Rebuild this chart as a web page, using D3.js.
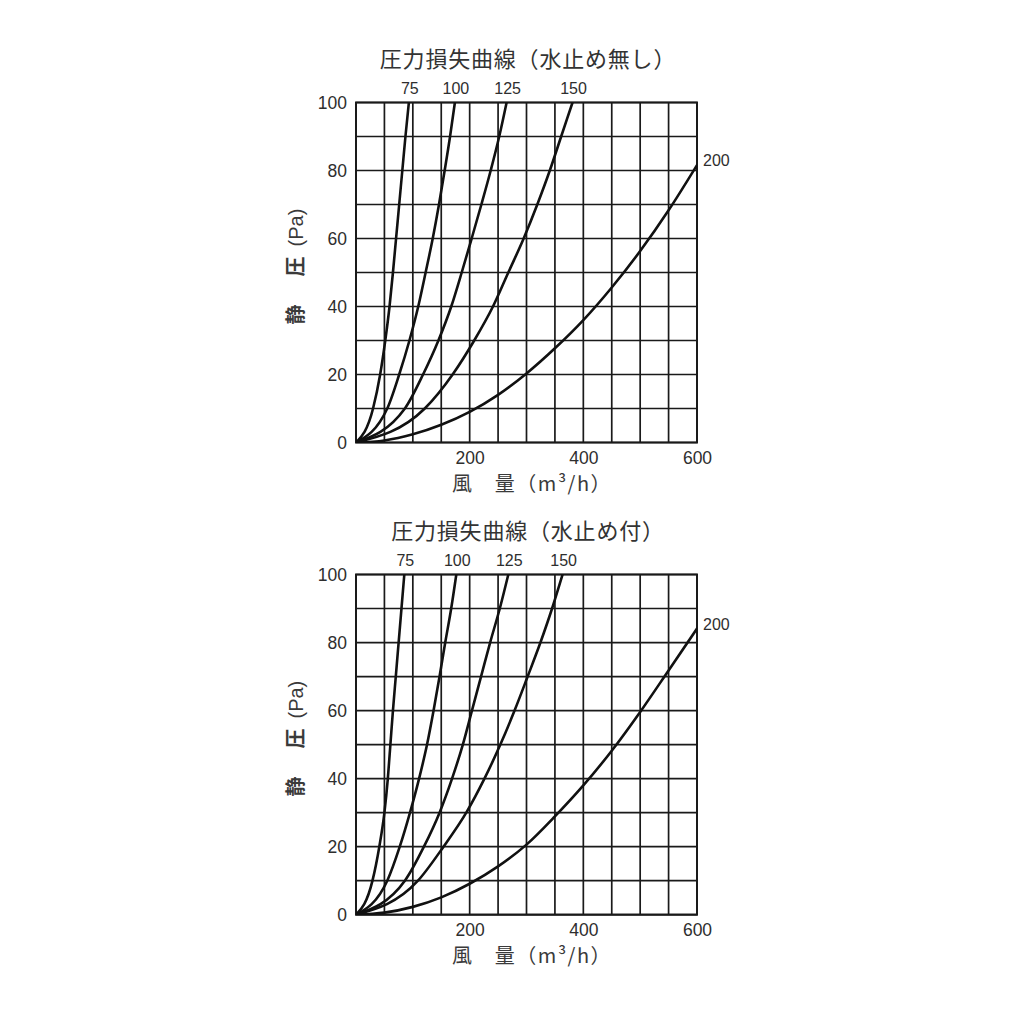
<!DOCTYPE html>
<html><head><meta charset="utf-8">
<script src="https://cdn.jsdelivr.net/npm/d3@7"></script>
<style>body{margin:0;background:#fff}</style>
</head><body>
<svg id="c" width="1024" height="1024"></svg>
<script>
// ---- data ----
const pLevels = [0,10,20,30,40,50,60,70,80,90,100];          // static pressure (Pa)
const qSteps  = [0,50,100,150,200,250,300,350,400,450,500,550,600]; // air volume (m3/h)
const yTicks = [0,20,40,60,80,100];
const xTicks = [200,400,600];
const seriesNames = ["75","100","125","150","200"];

// Chart 1: 水止め無し  (Q read at each pressure level for 75..150; P read at each Q step for 200)
const q75a  = [0,30,42.5,51.5,59,65,70.5,76,81.5,87,93];
const q100a = [0,55,76,94,109.5,122.5,135,146,156,165.5,174];
const q125a = [0,86,118,145,167.6,186,203.5,220.6,237,252,265];
const q150a = [0,121,170,208,241,268,295,319,341,361,381];
const p200a = [0,0.6,2.4,5.2,9,14,20.3,27.7,36,45.6,56.3,68.3,81.6];

// Chart 2: 水止め付
const q75b  = [0,29,41,50,56,60.5,65,70,75,80,85];
const q100b = [0,55,77,95,111,125,136.5,147,157,167.5,176.5];
const q125b = [0,86,119.5,147,169,188,204,220,236,253,268];
const q150b = [0,109,154,194,226,254,279,302,324.5,345,363.5];
const p200b = [0,0.6,2.3,5.1,9.1,14.2,20.6,28.9,38,48.2,59.6,71.8,84.1];

const titles = ["圧力損失曲線（水止め無し）","圧力損失曲線（水止め付）"];
const yLabelMain = "静　圧";
const yLabelUnit = "(Pa)";
const xLabel = "風　量（m³/h）";

// ---- drawing ----
const svg = d3.select("#c");
const ink = "#1a1a1a", txt = "#2e2e2e";
const numFont = "'Liberation Sans',Arial,sans-serif";
const cjkFont = "'Noto Sans CJK JP','Noto Sans CJK SC',sans-serif";

const x = d3.scaleLinear().domain([0,600]).range([356,697]);

function panel(idx, yBottom, yTop, qs, p200) {
  const y = d3.scaleLinear().domain([0,100]).range([yBottom,yTop]);
  const g = svg.append("g");
  const clipId = "clip"+idx;
  svg.append("clipPath").attr("id",clipId).append("rect")
    .attr("x",x(0)).attr("y",y(100)).attr("width",x(600)-x(0)).attr("height",y(0)-y(100));

  // grid
  g.selectAll(".v").data(qSteps).join("line")
    .attr("x1",d=>x(d)).attr("x2",d=>x(d)).attr("y1",y(0)).attr("y2",y(100))
    .attr("stroke",ink).attr("stroke-width",1.7);
  g.selectAll(".h").data(pLevels).join("line")
    .attr("x1",x(0)).attr("x2",x(600)).attr("y1",d=>y(d)).attr("y2",d=>y(d))
    .attr("stroke",ink).attr("stroke-width",1.7);
  g.append("rect").attr("x",x(0)).attr("y",y(100)).attr("width",x(600)-x(0)).attr("height",y(0)-y(100))
    .attr("fill","none").attr("stroke",ink).attr("stroke-width",2);

  // axes
  const ya = g.append("g").attr("transform",`translate(${x(0)},0)`)
    .call(d3.axisLeft(y).tickValues(yTicks).tickSize(0).tickPadding(9));
  ya.select(".domain").remove();
  ya.selectAll("text").attr("font-family",numFont).attr("font-size",17.5).attr("fill",txt);
  const xa = g.append("g").attr("transform",`translate(0,${y(0)})`)
    .call(d3.axisBottom(x).tickValues(xTicks).tickSize(0).tickPadding(9));
  xa.select(".domain").remove();
  xa.selectAll("text").attr("font-family",numFont).attr("font-size",17.5).attr("fill",txt);

  // curves (x-monotone: Q increases along each curve)
  const line = d3.line().x(d=>x(d[0])).y(d=>y(d[1])).curve(d3.curveMonotoneX);
  const curves = qs.map(arr => arr.map((q,i)=>[q,pLevels[i]]));
  curves.push(p200.map((p,i)=>[qSteps[i],p]));
  g.append("g").attr("clip-path",`url(#${clipId})`)
    .selectAll("path").data(curves).join("path")
    .attr("d",line).attr("fill","none").attr("stroke","#111").attr("stroke-width",2.6)
    .attr("stroke-linecap","round");

  // series labels
  qs.forEach((arr,i)=>{
    g.append("text").attr("x",x(arr[arr.length-1])+1).attr("y",y(100)-13)
      .attr("text-anchor","middle").attr("dominant-baseline","middle")
      .attr("font-family",numFont).attr("font-size",16).attr("fill",txt)
      .text(seriesNames[i]);
  });
  g.append("text").attr("x",x(600)+6).attr("y",y(p200[p200.length-1])-3)
    .attr("dominant-baseline","middle")
    .attr("font-family",numFont).attr("font-size",16).attr("fill",txt)
    .text(seriesNames[4]);

  // title
  g.append("text").attr("x",528).attr("y",y(100)-41).attr("text-anchor","middle")
    .attr("dominant-baseline","middle").attr("font-family",cjkFont).attr("font-size",22)
    .attr("font-weight",400).attr("letter-spacing",0.8).attr("fill","#333").text(titles[idx]);
  // x label
  g.append("text").attr("x",532).attr("y",y(0)+43).attr("text-anchor","middle")
    .attr("dominant-baseline","middle").attr("font-family",cjkFont).attr("font-size",20)
    .attr("font-weight",400).attr("letter-spacing",1.5).attr("fill","#3a3a3a").text(xLabel);
  // y label
  const cy = (y(0)+y(100))/2 - 6;
  const yl = g.append("text").attr("transform",`translate(298,${cy}) rotate(-90)`).attr("text-anchor","middle")
    .attr("fill","#3a3a3a");
  yl.append("tspan").attr("font-family",cjkFont).attr("font-size",20).attr("font-weight",700)
    .attr("dominant-baseline","middle").attr("letter-spacing",4).text(yLabelMain);
  yl.append("tspan").attr("font-family",numFont).attr("font-size",20).attr("dx",6)
    .attr("dominant-baseline","middle").text(yLabelUnit);
}

panel(0, 442.5, 102.5, [q75a,q100a,q125a,q150a], p200a);
panel(1, 914.7, 574.5, [q75b,q100b,q125b,q150b], p200b);
</script>
</body></html>
